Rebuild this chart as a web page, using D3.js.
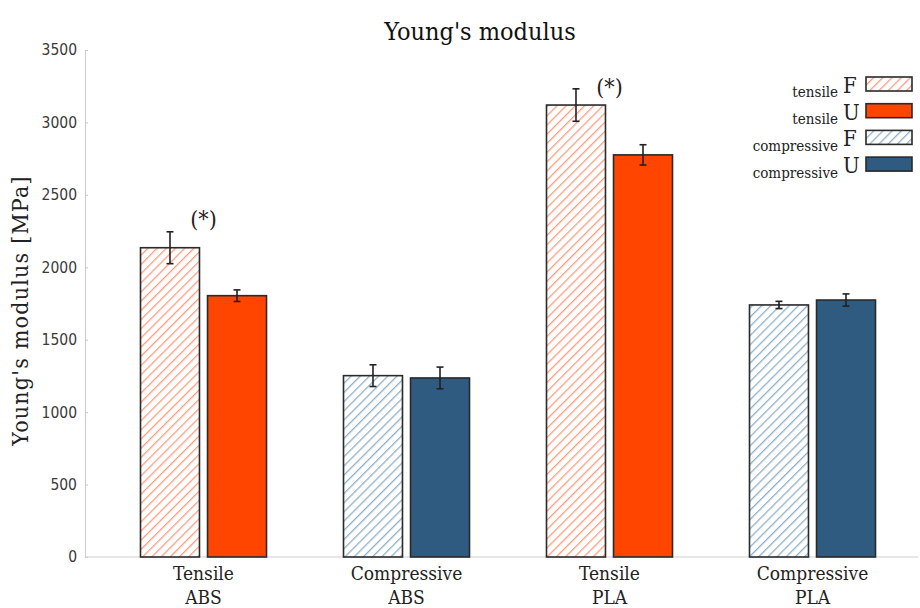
<!DOCTYPE html>
<html>
<head>
<meta charset="utf-8">
<script src="https://cdn.jsdelivr.net/npm/d3@7"></script>
<style>
  body { margin: 0; background: #fff; }
  .serif { font-family: "DejaVu Serif Condensed", "Liberation Serif", serif; font-stretch: condensed; }
  .tick text { font-family: "DejaVu Sans Condensed", "DejaVu Sans", sans-serif; font-stretch: condensed; }
</style>
</head>
<body>
<div id="chart"></div>
<script>
// groups along the x axis (two text lines each)
const groups = ["Tensile ABS", "Compressive ABS", "Tensile PLA", "Compressive PLA"];
const groupLine1 = ["Tensile", "Compressive", "Tensile", "Compressive"];
const groupLine2 = ["ABS", "ABS", "PLA", "PLA"];
const groupKind = ["tensile", "compressive", "tensile", "compressive"];

// F (hatched) and U (solid) values, MPa
const valuesF = [2135, 1252, 3120, 1740];
const valuesU = [1804, 1236, 2776, 1774];
const errF = [110, 75, 112, 25];
const errU = [40, 75, 70, 42];

// significance marks: label and the value where it sits
const sigLabel = ["(*)", "", "(*)", ""];
const sigAt = [2330, null, 3245, null];

const yTicks = [0, 500, 1000, 1500, 2000, 2500, 3000, 3500];

const legendKind = ["tensile", "tensile", "compressive", "compressive"];
const legendLetter = ["F", "U", "F", "U"];

const colors = {
  tensile: { solid: "#ff4500", hatch: "#ff9c7c" },
  compressive: { solid: "#2e5b7f", hatch: "#8fb0c8" }
};

const width = 920, height = 608;
const margin = { top: 50, right: 2, bottom: 51, left: 85 };

const svg = d3.select("#chart").append("svg")
  .attr("width", width)
  .attr("height", height);

// hatch patterns
const defs = svg.append("defs");
Object.keys(colors).forEach(k => {
  const p = defs.append("pattern")
    .attr("id", "hatch-" + k)
    .attr("patternUnits", "userSpaceOnUse")
    .attr("width", 6.5)
    .attr("height", 6.5)
    .attr("patternTransform", "rotate(45)");
  p.append("rect").attr("width", 6.5).attr("height", 6.5).attr("fill", "#fff");
  p.append("line")
    .attr("x1", 0).attr("y1", 0).attr("x2", 0).attr("y2", 6.5)
    .attr("stroke", colors[k].hatch)
    .attr("stroke-width", 2.6);
});

const y = d3.scaleLinear()
  .domain([0, 3500])
  .range([height - margin.bottom, margin.top]);

const x0 = d3.scaleBand()
  .domain(groups)
  .range([102, 914]);

const x1 = d3.scaleBand()
  .domain(["F", "U"])
  .range([38.5, x0.bandwidth() - 38.5])
  .paddingInner(0.12);

// axes
const yAxis = svg.append("g")
  .attr("transform", `translate(${margin.left},0)`)
  .call(d3.axisLeft(y).tickValues(yTicks).tickFormat(d3.format("d")).tickSize(-3).tickPadding(8));
yAxis.select(".domain").attr("stroke", "#d0d0d0").attr("stroke-width", 1.2);
yAxis.selectAll(".tick line").attr("stroke", "#c8c8c8");
yAxis.selectAll(".tick text").attr("font-size", 15.5).attr("fill", "#3a3a3a");

svg.append("line")
  .attr("x1", margin.left).attr("x2", width - margin.right)
  .attr("y1", y(0)).attr("y2", y(0))
  .attr("stroke", "#d0d0d0").attr("stroke-width", 1.2);

// bars
const rows = [];
groups.forEach((g, i) => {
  rows.push({ g, i, key: "F", v: valuesF[i], e: errF[i], kind: groupKind[i] });
  rows.push({ g, i, key: "U", v: valuesU[i], e: errU[i], kind: groupKind[i] });
});

const barArea = svg.append("g");

barArea.selectAll(".bar")
  .data(rows)
  .join("rect")
  .attr("class", "bar")
  .attr("x", d => x0(d.g) + x1(d.key))
  .attr("y", d => y(d.v))
  .attr("width", x1.bandwidth())
  .attr("height", d => y(0) - y(d.v))
  .attr("fill", d => d.key === "F" ? `url(#hatch-${d.kind})` : colors[d.kind].solid)
  .attr("stroke", "#2a2a2a")
  .attr("stroke-width", 1.6);

// error bars
const eb = barArea.selectAll(".err")
  .data(rows)
  .join("g")
  .attr("class", "err")
  .attr("stroke", "#222")
  .attr("stroke-width", 1.6);
const cx = d => x0(d.g) + x1(d.key) + x1.bandwidth() / 2;
eb.append("line")
  .attr("x1", cx).attr("x2", cx)
  .attr("y1", d => y(d.v + d.e)).attr("y2", d => y(d.v - d.e));
eb.append("line")
  .attr("x1", d => cx(d) - 3.5).attr("x2", d => cx(d) + 3.5)
  .attr("y1", d => y(d.v + d.e)).attr("y2", d => y(d.v + d.e));
eb.append("line")
  .attr("x1", d => cx(d) - 3.5).attr("x2", d => cx(d) + 3.5)
  .attr("y1", d => y(d.v - d.e)).attr("y2", d => y(d.v - d.e));

// significance labels
svg.selectAll(".sig")
  .data(groups.filter((g, i) => sigLabel[i]))
  .join("text")
  .attr("class", "sig serif")
  .attr("x", g => x0(g) + x0.bandwidth() / 2)
  .attr("y", g => y(sigAt[groups.indexOf(g)]))
  .attr("text-anchor", "middle")
  .attr("dominant-baseline", "central")
  .attr("font-size", 23)
  .attr("fill", "#222")
  .text(g => sigLabel[groups.indexOf(g)]);

// x labels
const xl = svg.selectAll(".xlab")
  .data(groups)
  .join("text")
  .attr("class", "xlab serif")
  .attr("text-anchor", "middle")
  .attr("font-size", 19)
  .attr("fill", "#222");
xl.append("tspan")
  .attr("x", g => x0(g) + x0.bandwidth() / 2)
  .attr("y", 580)
  .text((g, i) => groupLine1[i]);
xl.append("tspan")
  .attr("x", g => x0(g) + x0.bandwidth() / 2)
  .attr("y", 604)
  .text((g, i) => groupLine2[i]);

// title and y label
svg.append("text")
  .attr("class", "serif")
  .attr("x", 480).attr("y", 40)
  .attr("text-anchor", "middle")
  .attr("font-size", 25)
  .attr("fill", "#111")
  .text("Young's modulus");

svg.append("text")
  .attr("class", "serif")
  .attr("transform", `translate(28,${(y(0) + y(3500)) / 2 + 7}) rotate(-90)`)
  .attr("text-anchor", "middle")
  .attr("font-size", 23)
  .attr("letter-spacing", 1.2)
  .attr("fill", "#222")
  .text("Young's modulus [MPa]");

// legend
const legend = svg.append("g");
const li = legend.selectAll("g")
  .data(legendKind)
  .join("g")
  .attr("transform", (d, i) => `translate(0,${77 + i * 26.7})`);
li.append("rect")
  .attr("x", 866).attr("y", 0)
  .attr("width", 46).attr("height", 14)
  .attr("fill", (d, i) => legendLetter[i] === "F" ? `url(#hatch-${d})` : colors[d].solid)
  .attr("stroke", "#2a2a2a")
  .attr("stroke-width", 1.6);
li.append("text")
  .attr("class", "serif")
  .attr("x", 838).attr("y", (d, i) => d === "tensile" ? 20 : 21)
  .attr("text-anchor", "end")
  .attr("font-size", 15)
  .attr("fill", "#222")
  .text(d => d);
li.append("text")
  .attr("class", "serif")
  .attr("x", 843).attr("y", 16)
  .attr("font-size", 22)
  .attr("fill", "#222")
  .text((d, i) => legendLetter[i]);
</script>
</body>
</html>
